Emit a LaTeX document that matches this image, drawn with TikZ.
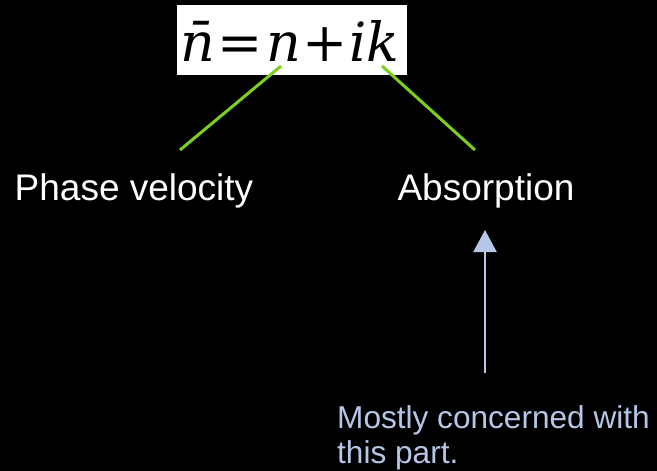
\documentclass[tikz,border=0pt]{standalone}
\usepackage{fontspec}
\setmainfont{Liberation Sans}
\newfontfamily\formulafont{DejaVu Serif}
\usetikzlibrary{arrows.meta}
\definecolor{lgreen}{RGB}{124,208,26}
\definecolor{lblue}{RGB}{180,199,231}
\tikzset{
  label/.style={text=white,font=\fontsize{37}{40}\selectfont,inner sep=0pt},
  note/.style={text=lblue,font=\fontsize{31.6}{35}\selectfont,inner sep=0pt,align=left},
  gline/.style={draw=lgreen,line width=3pt},
  barrow/.style={draw=lblue,line width=2.5pt,-{Triangle[width=23pt,length=22pt]}}
}
\begin{document}
\begin{tikzpicture}[x=1pt,y=-1pt]
\fill[black] (0,0) rectangle (657,471);
\useasboundingbox (0,0) rectangle (657,471);
\fill[white] (177,5) rectangle (407,75);
\node[anchor=base,inner sep=0pt,font=\formulafont\itshape\fontsize{54}{58}\selectfont] (eq) at (290,61) {n̄\kern2pt=\kern4pt n\kern1.5pt+\kern1pt ik};
\coordinate (n1) at (281,66);
\coordinate (k1) at (382,66);
\coordinate (p1) at (180,150);
\coordinate (a1) at (475,150);
\node[label,anchor=base] (phase) at (134,200) {Phase velocity};
\node[label,anchor=base] (abs) at (486,200) {Absorption};
\draw[gline] (n1) -- (p1);
\draw[gline] (k1) -- (a1);
\coordinate (astart) at (485,373);
\coordinate (aend) at (485,230);
\draw[barrow] (astart) -- (aend);
\node[note,anchor=base west] (note) at (337,463) {Mostly concerned with\\this part.};
\end{tikzpicture}
\end{document}
